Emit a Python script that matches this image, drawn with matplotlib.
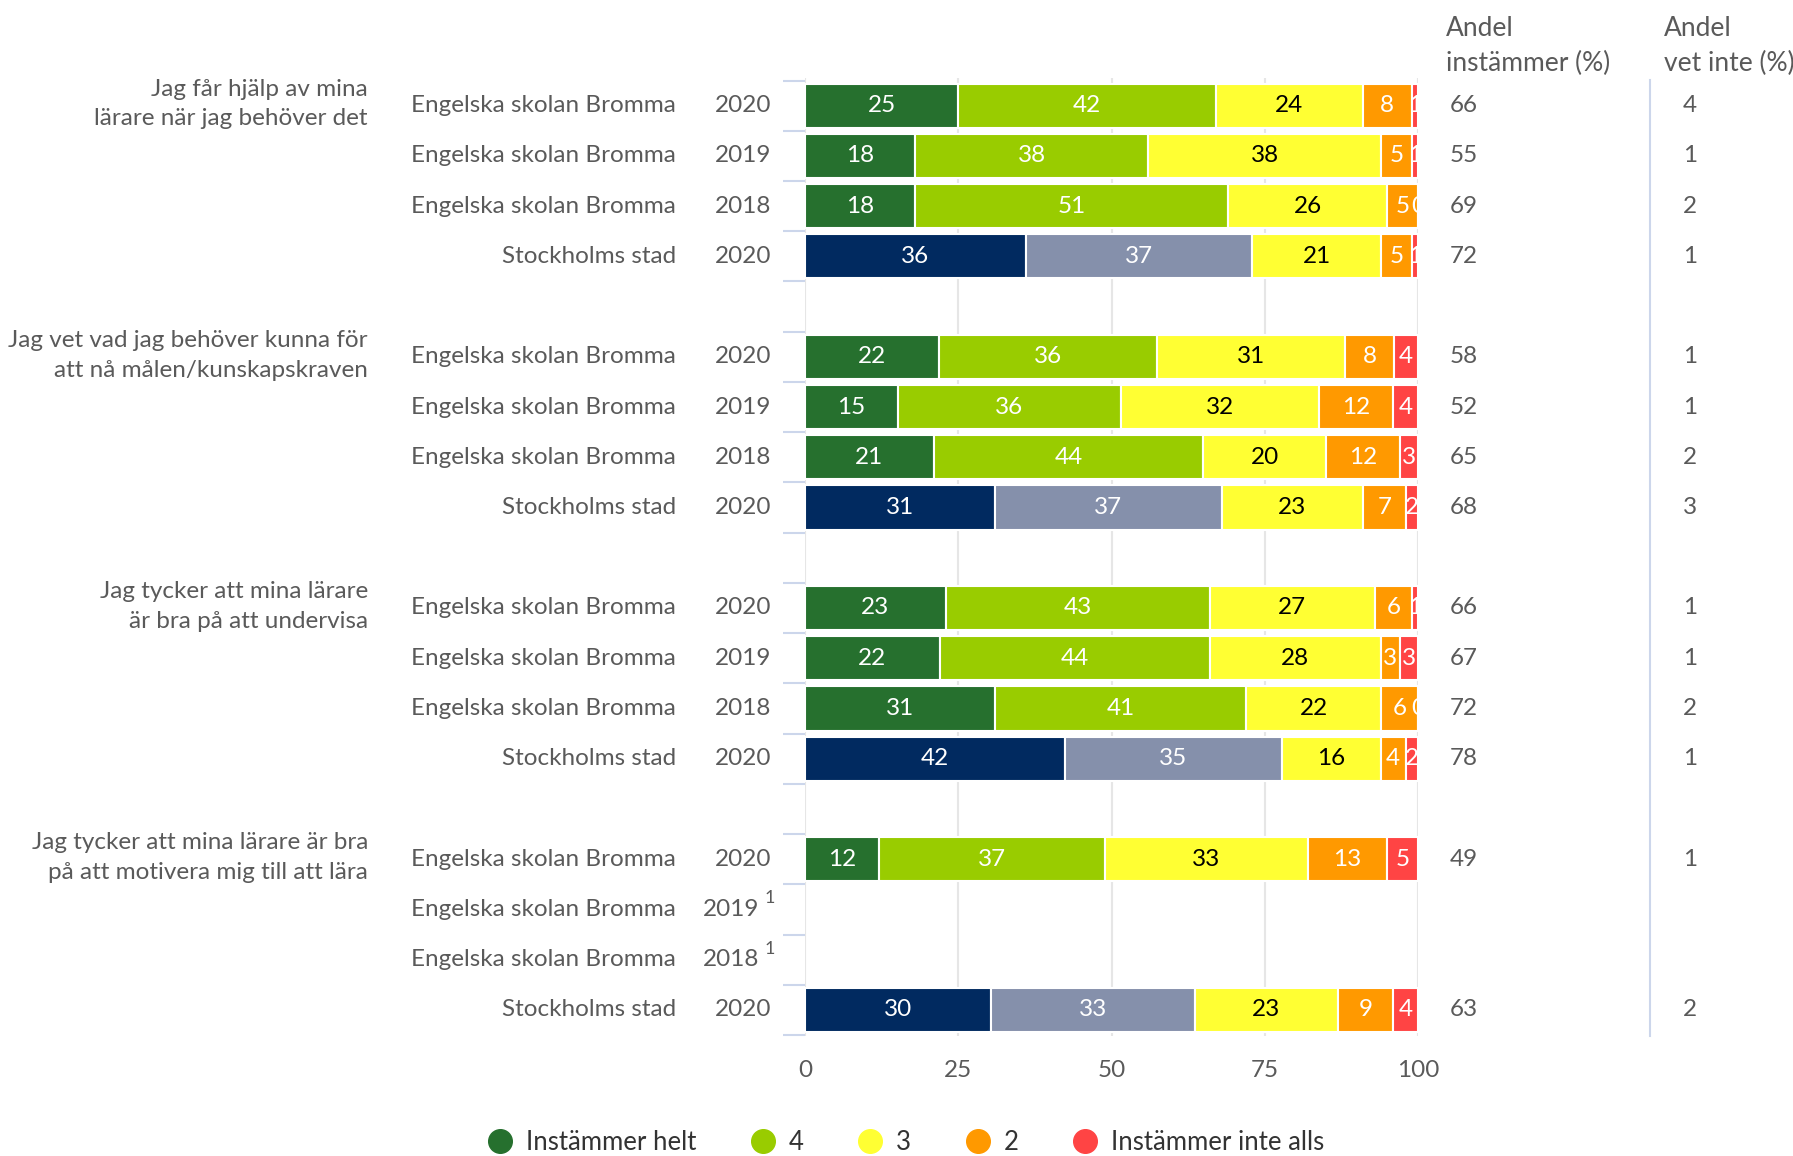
import matplotlib.pyplot as plt
import numpy as np
from matplotlib.lines import Line2D
from matplotlib.transforms import blended_transform_factory

plt.rcParams["font.family"] = ["Lato", "DejaVu Sans"]

# questions (one per group of four rows)
questions = ["Jag får hjälp av mina\nlärare när jag behöver det",
             "Jag vet vad jag behöver kunna för\natt nå målen/kunskapskraven",
             "Jag tycker att mina lärare\när bra på att undervisa",
             "Jag tycker att mina lärare är bra\npå att motivera mig till att lära"]
units = ["Engelska skolan Bromma", "Engelska skolan Bromma",
         "Engelska skolan Bromma", "Stockholms stad"]
years = ["2020", "2019", "2018", "2020"]

# one value per row, 4 rows per question (nan = too few answers)
nan = np.nan
helt = [25, 18, 18, 36, 22, 15, 21, 31, 23, 22, 31, 42, 12, nan, nan, 30]
fyra = [42, 38, 51, 37, 36, 36, 44, 37, 43, 44, 41, 35, 37, nan, nan, 33]
tre = [24, 38, 26, 21, 31, 32, 20, 23, 27, 28, 22, 16, 33, nan, nan, 23]
tva = [8, 5, 5, 5, 8, 12, 12, 7, 6, 3, 6, 4, 13, nan, nan, 9]
inte_alls = [1, 1, 0, 1, 4, 4, 3, 2, 1, 3, 0, 2, 5, nan, nan, 4]
andel_instammer = [66, 55, 69, 72, 58, 52, 65, 68, 66, 67, 72, 78, 49, nan, nan, 63]
andel_vet_inte = [4, 1, 2, 1, 1, 1, 2, 3, 1, 1, 2, 1, 1, nan, nan, 2]

legend_labels = ["Instämmer helt", "4", "3", "2", "Instämmer inte alls"]
colors = ["#26702e", "#99cc00", "#ffff33", "#ff9900", "#ff4444"]
stad_colors = ["#012a60", "#8590ab", "#ffff33", "#ff9900", "#ff4444"]
txt_col = "#5a5a5a"
fs = 17.5

series = np.array([helt, fyra, tre, tva, inte_alls], dtype=float)

fig = plt.figure(figsize=(17.93, 11.56), dpi=100)
ax = fig.add_axes([805 / 1793, 1 - 1036 / 1156, 613 / 1793, 958 / 1156])
tr = blended_transform_factory(fig.transFigure, ax.transData)

for k in range(series.shape[1]):
    g, i = divmod(k, 4)
    y = g * 5 + i
    # row label and year
    ax.text(676 / 1793, y, units[i], transform=tr, ha="right", va="center",
            fontsize=fs, color=txt_col)
    if np.isnan(series[0, k]):
        ax.text(759 / 1793, y, years[i], transform=tr, ha="right",
                va="center", fontsize=fs, color=txt_col)
        ax.text(765 / 1793, y - 0.22, "1", transform=tr, ha="left",
                va="center", fontsize=13, color=txt_col)
        continue
    ax.text(771 / 1793, y, years[i], transform=tr, ha="right", va="center",
            fontsize=fs, color=txt_col)
    vals = series[:, k]
    widths = vals / vals.sum() * 100
    cols = stad_colors if i == 3 else colors
    left = 0
    for j in range(5):
        ax.barh(y, widths[j], left=left, height=0.88, color=cols[j],
                edgecolor="white", linewidth=1.5)
        ax.text(left + widths[j] / 2, y, "%d" % vals[j], ha="center",
                va="center", fontsize=fs,
                color="black" if j == 2 else "white", clip_on=True)
        left += widths[j]
    ax.text(1450 / 1793, y, "%d" % andel_instammer[k], transform=tr,
            ha="left", va="center", fontsize=fs, color=txt_col)
    ax.text(1683 / 1793, y, "%d" % andel_vet_inte[k], transform=tr,
            ha="left", va="center", fontsize=fs, color=txt_col)

for g, q in enumerate(questions):
    ax.text(368 / 1793, g * 5 - 0.03, q, transform=tr, ha="right",
            va="center", fontsize=fs, color=txt_col, linespacing=1.5)

fig.text(1446 / 1793, 1 - 46 / 1156, "Andel\ninstämmer (%)", ha="left",
         va="center", fontsize=19, color=txt_col, linespacing=1.45)
fig.text(1664 / 1793, 1 - 46 / 1156, "Andel\nvet inte (%)", ha="left",
         va="center", fontsize=19, color=txt_col, linespacing=1.45)

# separator line before "vet inte"
fig.add_artist(Line2D([1650 / 1793, 1650 / 1793],
                      [1 - 80 / 1156, 1 - 1036 / 1156],
                      color="#ccd6eb", lw=1.5))

ax.set_xlim(0, 100)
ax.set_ylim(18.52, -0.55)
ax.set_xticks([0, 25, 50, 75, 100])
ax.set_yticks(np.arange(-0.5, 19, 1))
ax.set_yticklabels([])
ax.tick_params(axis="x", length=0, pad=17, labelsize=fs, labelcolor=txt_col)
ax.tick_params(axis="y", length=16, width=1.5, color="#ccd6eb")
ax.grid(axis="x", color="#e6e6e6", lw=1.5)
ax.set_axisbelow(True)
for s in ax.spines.values():
    s.set_visible(False)

handles = [Line2D([], [], marker="o", ls="", markersize=17, color=c)
           for c in colors]
fig.legend(handles, legend_labels, loc="center",
           bbox_to_anchor=(0.505, 1 - 1142 / 1156), ncol=5, frameon=False,
           fontsize=18.5, labelcolor="#333333", handletextpad=0.5,
           columnspacing=2.1, handlelength=1.0)

fig.savefig("out.png", dpi=100)
